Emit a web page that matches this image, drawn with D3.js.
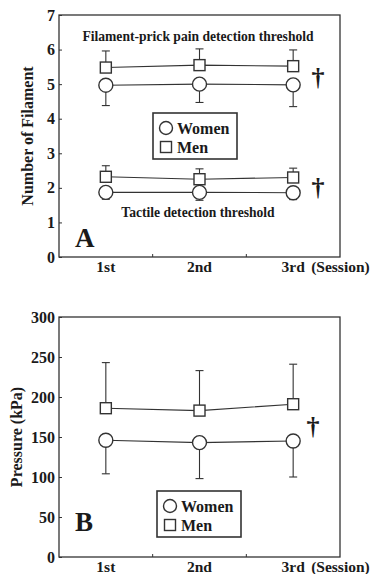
<!DOCTYPE html>
<meta charset="utf-8">
<script src="https://d3js.org/d3.v7.min.js"></script>
<style>
  body { margin: 0; background: #fff; }
  svg text { font-family: "Liberation Serif", "Times New Roman", serif !important; font-weight: bold; fill: #1a1a1a; }
</style>
<div id="chart"></div>
<script>

// sessions on the x axis
var sessions = ["1st", "2nd", "3rd"];

// panel A: number of filament (mean, SD)
var painMen = [5.48, 5.55, 5.52];
var painMenSD = [0.48, 0.47, 0.47];
var painWomen = [4.97, 5.0, 4.98];
var painWomenSD = [0.59, 0.53, 0.63];
var tactileMen = [2.32, 2.25, 2.30];
var tactileMenSD = [0.32, 0.30, 0.27];
var tactileWomen = [1.87, 1.87, 1.86];
var tactileWomenSD = [0.20, 0.23, 0.20];
var filamentTicks = [0, 1, 2, 3, 4, 5, 6, 7];

// panel B: pressure in kPa (mean, SD)
var pressureMen = [186, 183, 191];
var pressureMenSD = [57, 50, 50];
var pressureWomen = [146, 143, 145];
var pressureWomenSD = [42, 45, 45];
var pressureTicks = [0, 50, 100, 150, 200, 250, 300];

var W = 372, H = 574;
var ink = "#333";

var svg = d3.select("#chart")
  .append("svg")
    .attr("width", W)
    .attr("height", H);

function drawPanel(opt) {
  var x = d3.scaleBand()
    .domain(sessions)
    .range([59, 340])
    .padding(0);

  var y = d3.scaleLinear()
    .domain(opt.domain)
    .range([opt.bottom, opt.top]);

  var g = svg.append("g");

  // frame
  g.append("rect")
    .attr("x", 59).attr("y", opt.top)
    .attr("width", 281).attr("height", opt.bottom - opt.top)
    .attr("fill", "none")
    .attr("stroke", ink)
    .attr("stroke-width", 1.3);

  // y axis
  var ya = g.append("g")
    .attr("transform", "translate(59,0)")
    .call(d3.axisLeft(y).tickValues(opt.ticks).tickFormat(d3.format("d")).tickSize(-3).tickPadding(4));
  ya.select(".domain").remove();
  ya.selectAll("line").attr("stroke", ink);
  ya.selectAll("text").style("font-size", "16px");

  // x axis: labels at band centres
  var xa = g.append("g")
    .attr("transform", "translate(0," + opt.bottom + ")")
    .call(d3.axisBottom(x).tickSize(0).tickPadding(4));
  xa.select(".domain").remove();
  xa.selectAll("text").style("font-size", "15.5px");

  // small ticks on band boundaries
  g.selectAll(".minor")
    .data(sessions.slice(1))
    .enter()
    .append("line")
      .attr("x1", function(d) { return x(d); })
      .attr("x2", function(d) { return x(d); })
      .attr("y1", opt.bottom)
      .attr("y2", opt.bottom - 3)
      .attr("stroke", ink);

  g.append("text")
    .attr("x", x("3rd") + x.bandwidth() / 2 + 18)
    .attr("y", opt.bottom + 15)
    .style("font-size", "15.5px")
    .text("(Session)");

  // y label
  g.append("text")
    .attr("transform", "translate(" + opt.labelX + "," + (opt.top + opt.bottom) / 2 + ") rotate(-90)")
    .attr("text-anchor", "middle")
    .style("font-size", "16px")
    .text(opt.yLabel);

  var cx = function(i) { return x(sessions[i]) + x.bandwidth() / 2; };

  opt.series.forEach(function(s) {
    // error bars
    s.mean.forEach(function(m, i) {
      var end = s.dir > 0 ? m + s.sd[i] : m - s.sd[i];
      g.append("line")
        .attr("x1", cx(i)).attr("x2", cx(i))
        .attr("y1", y(m)).attr("y2", y(end))
        .attr("stroke", ink).attr("stroke-width", 1.1);
      g.append("line")
        .attr("x1", cx(i) - 4).attr("x2", cx(i) + 4)
        .attr("y1", y(end)).attr("y2", y(end))
        .attr("stroke", ink).attr("stroke-width", 1.1);
    });

    // connecting line
    g.append("path")
      .datum(s.mean)
      .attr("fill", "none")
      .attr("stroke", ink)
      .attr("stroke-width", 1.1)
      .attr("d", d3.line()
        .x(function(d, i) { return cx(i); })
        .y(function(d) { return y(d); }));

    // markers
    s.mean.forEach(function(m, i) {
      if (s.shape === "circle") {
        g.append("circle")
          .attr("cx", cx(i)).attr("cy", y(m)).attr("r", 7)
          .attr("fill", "#fff").attr("stroke", ink).attr("stroke-width", 1.4);
      } else {
        g.append("rect")
          .attr("x", cx(i) - 5.5).attr("y", y(m) - 5.5)
          .attr("width", 11).attr("height", 11)
          .attr("fill", "#fff").attr("stroke", ink).attr("stroke-width", 1.4);
      }
    });
  });

  // daggers
  opt.daggers.forEach(function(d) {
    g.append("text")
      .attr("x", d[0]).attr("y", y(d[1]))
      .attr("dy", "0.35em")
      .attr("text-anchor", "middle")
      .style("font-size", "26px")
      .text("\u2020");
  });

  // panel letter
  g.append("text")
    .attr("x", 75).attr("y", opt.letterY)
    .style("font-size", "27px")
    .text(opt.letter);

  // legend
  var lg = g.append("g").attr("transform", "translate(" + opt.legend[0] + "," + opt.legend[1] + ")");
  lg.append("rect")
    .attr("width", 84).attr("height", 46)
    .attr("fill", "#fff").attr("stroke", ink).attr("stroke-width", 1.6);
  lg.append("circle").attr("cx", 13).attr("cy", 15).attr("r", 6.5)
    .attr("fill", "#fff").attr("stroke", ink).attr("stroke-width", 1.4);
  lg.append("rect").attr("x", 7.5).attr("y", 28.5).attr("width", 11).attr("height", 11)
    .attr("fill", "#fff").attr("stroke", ink).attr("stroke-width", 1.4);
  lg.append("text").attr("x", 24).attr("y", 21).style("font-size", "16px").text("Women");
  lg.append("text").attr("x", 24).attr("y", 40).style("font-size", "16px").text("Men");

  return y;
}

// Panel A
drawPanel({
  top: 15, bottom: 257, domain: [0, 7], ticks: filamentTicks,
  yLabel: "Number of Filament", labelX: 33,
  letter: "A", letterY: 247,
  legend: [153, 113],
  daggers: [[318, 5.2], [318, 2.02]],
  series: [
    {mean: painMen, sd: painMenSD, dir: 1, shape: "square"},
    {mean: painWomen, sd: painWomenSD, dir: -1, shape: "circle"},
    {mean: tactileMen, sd: tactileMenSD, dir: 1, shape: "square"},
    {mean: tactileWomen, sd: tactileWomenSD, dir: -1, shape: "circle"}
  ]
});

svg.append("text").attr("x", 198).attr("y", 41).attr("text-anchor", "middle")
  .style("font-size", "13.6px").text("Filament-prick pain detection threshold");
svg.append("text").attr("x", 198).attr("y", 217).attr("text-anchor", "middle")
  .style("font-size", "13.6px").text("Tactile detection threshold");

// Panel B
drawPanel({
  top: 317, bottom: 557, domain: [0, 300], ticks: pressureTicks,
  yLabel: "Pressure (kPa)", labelX: 22,
  letter: "B", letterY: 531,
  legend: [157, 491],
  daggers: [[313, 164]],
  series: [
    {mean: pressureMen, sd: pressureMenSD, dir: 1, shape: "square"},
    {mean: pressureWomen, sd: pressureWomenSD, dir: -1, shape: "circle"}
  ]
});

</script>
